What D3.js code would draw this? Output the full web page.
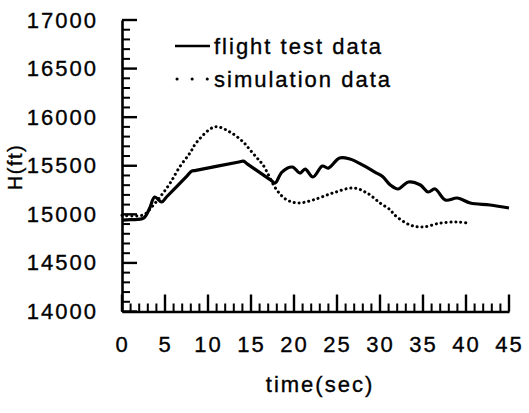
<!DOCTYPE html>
<html>
<head>
<meta charset="utf-8">
<script src="https://d3js.org/d3.v7.min.js"></script>
<style>
  body { margin: 0; background: #fff; }
  text { font-family: "Liberation Sans", Arial, sans-serif; fill: #000; stroke: #000; stroke-width: 0.35px; }
</style>
</head>
<body>
<script>
  // flight test data (time in sec, altitude in ft)
  const flightTime = [0, 1, 2.5, 3.2, 3.8, 4.6, 5.2, 7.6, 8.1, 8.6, 13.6, 14.1, 14.6, 17.3, 17.8, 18.6, 19.8, 20.7, 21.3, 22.2, 23.3, 24.0, 25.3, 26.5, 28.0, 29.4, 30.3, 31.2, 32.1, 33.3, 34.7, 35.6, 36.4, 37.6, 39.0, 40.5, 42.8, 45];
  const flightH = [14940, 14945, 14960, 15060, 15178, 15127, 15181, 15399, 15444, 15453, 15539, 15548, 15517, 15352, 15322, 15435, 15487, 15425, 15466, 15384, 15497, 15476, 15580, 15569, 15507, 15435, 15390, 15302, 15261, 15333, 15302, 15230, 15261, 15147, 15168, 15117, 15096, 15065];

  // simulation data
  const simTime = [0, 2.5, 3.5, 4.6, 5.6, 6.7, 7.9, 8.7, 10.8, 12.5, 14.1, 14.9, 15.7, 16.4, 18.0, 19.2, 20.5, 22.2, 24.5, 26.9, 28.5, 30.0, 31.2, 31.7, 33.5, 35.0, 37.0, 39.0, 40.2];
  const simH = [14990, 14995, 15080, 15199, 15322, 15487, 15631, 15744, 15900, 15850, 15744, 15662, 15580, 15508, 15250, 15147, 15117, 15147, 15219, 15271, 15219, 15117, 15045, 14993, 14890, 14870, 14910, 14921, 14910];

  const xTicks = [0, 5, 10, 15, 20, 25, 30, 35, 40, 45];
  const yTicks = [14000, 14500, 15000, 15500, 16000, 16500, 17000];
  const legendLabels = ["flight test data", "simulation data"];

  const width = 529, height = 413;
  const plotL = 122, plotR = 509, plotT = 20, plotB = 311.5;

  const x = d3.scaleLinear().domain([0, 45]).range([plotL, plotR]);
  const y = d3.scaleLinear().domain([14000, 17000]).range([plotB, plotT]);

  const svg = d3.select("body").append("svg")
    .attr("width", width)
    .attr("height", height);

  // axes: lines + labels
  const yAxis = svg.append("g")
    .attr("transform", "translate(" + plotL + ",0)")
    .call(d3.axisLeft(y).tickValues(yTicks).tickFormat(d3.format("d"))
      .tickSize(0).tickPadding(24));

  const xAxis = svg.append("g")
    .attr("transform", "translate(0," + plotB + ")")
    .call(d3.axisBottom(x).tickValues(xTicks).tickFormat(d3.format("d"))
      .tickSize(0).tickPadding(25));

  [yAxis, xAxis].forEach(function(a) {
    a.select(".domain").attr("stroke", "#000").attr("stroke-width", 2.6);
    a.selectAll("text")
      .attr("font-size", "22px")
      .attr("letter-spacing", "2px")
      .style("font-family", "'Liberation Sans', Arial, sans-serif");
  });

  // tick marks, pointing into the plot (minor every 100 ft / 1 s)
  const yMinor = d3.range(14000, 17001, 100);
  const xMinor = d3.range(0, 46, 1);

  const ticks = svg.append("g").attr("class", "inner-ticks");
  ticks.selectAll("rect.yt")
    .data(yMinor)
    .enter()
    .append("rect")
    .attr("class", "yt")
    .attr("x", plotL)
    .attr("y", d => y(d) - (d % 500 === 0 ? 1.2 : 1))
    .attr("width", d => d % 500 === 0 ? 15 : 8)
    .attr("height", d => d % 500 === 0 ? 2.4 : 2)
    .attr("fill", "#000");
  ticks.selectAll("rect.xt")
    .data(xMinor)
    .enter()
    .append("rect")
    .attr("class", "xt")
    .attr("x", d => x(d) - (d % 5 === 0 ? 1.2 : 1))
    .attr("y", d => plotB - (d % 5 === 0 ? 17 : 8))
    .attr("width", d => d % 5 === 0 ? 2.4 : 2)
    .attr("height", d => d % 5 === 0 ? 17 : 8)
    .attr("fill", "#000");

  // axis titles
  svg.append("text")
    .attr("transform", "translate(22,167) rotate(-90)")
    .attr("text-anchor", "middle")
    .attr("font-size", "20px")
    .attr("letter-spacing", "1.5px")
    .text("H(ft)");

  svg.append("text")
    .attr("x", 320)
    .attr("y", 392)
    .attr("text-anchor", "middle")
    .attr("font-size", "22px")
    .attr("letter-spacing", "2px")
    .text("time(sec)");

  const line = d3.line()
    .x(d => x(d[0]))
    .y(d => y(d[1]))
    .curve(d3.curveCatmullRom.alpha(0.5));

  svg.append("path")
    .datum(simTime.map((t, i) => [t, simH[i]]))
    .attr("d", line)
    .attr("fill", "none")
    .attr("stroke", "#000")
    .attr("stroke-width", 3)
    .attr("stroke-linecap", "round")
    .attr("stroke-dasharray", "0.1 4.8");

  svg.append("path")
    .datum(flightTime.map((t, i) => [t, flightH[i]]))
    .attr("d", line)
    .attr("fill", "none")
    .attr("stroke", "#000")
    .attr("stroke-width", 3.2)
    .attr("stroke-linejoin", "round");

  // legend
  const legend = svg.append("g");
  legend.append("line")
    .attr("x1", 175).attr("x2", 210)
    .attr("y1", 46).attr("y2", 46)
    .attr("stroke", "#000").attr("stroke-width", 2.6);
  legend.append("line")
    .attr("x1", 177).attr("x2", 208)
    .attr("y1", 79).attr("y2", 79)
    .attr("stroke", "#000").attr("stroke-width", 3)
    .attr("stroke-linecap", "round")
    .attr("stroke-dasharray", "0.1 15");
  legend.selectAll("text.leg")
    .data(legendLabels)
    .enter()
    .append("text")
    .attr("class", "leg")
    .attr("x", 214)
    .attr("y", (d, i) => 54 + i * 33)
    .attr("font-size", "22px")
    .attr("letter-spacing", "2px")
    .text(d => d);
</script>
</body>
</html>
